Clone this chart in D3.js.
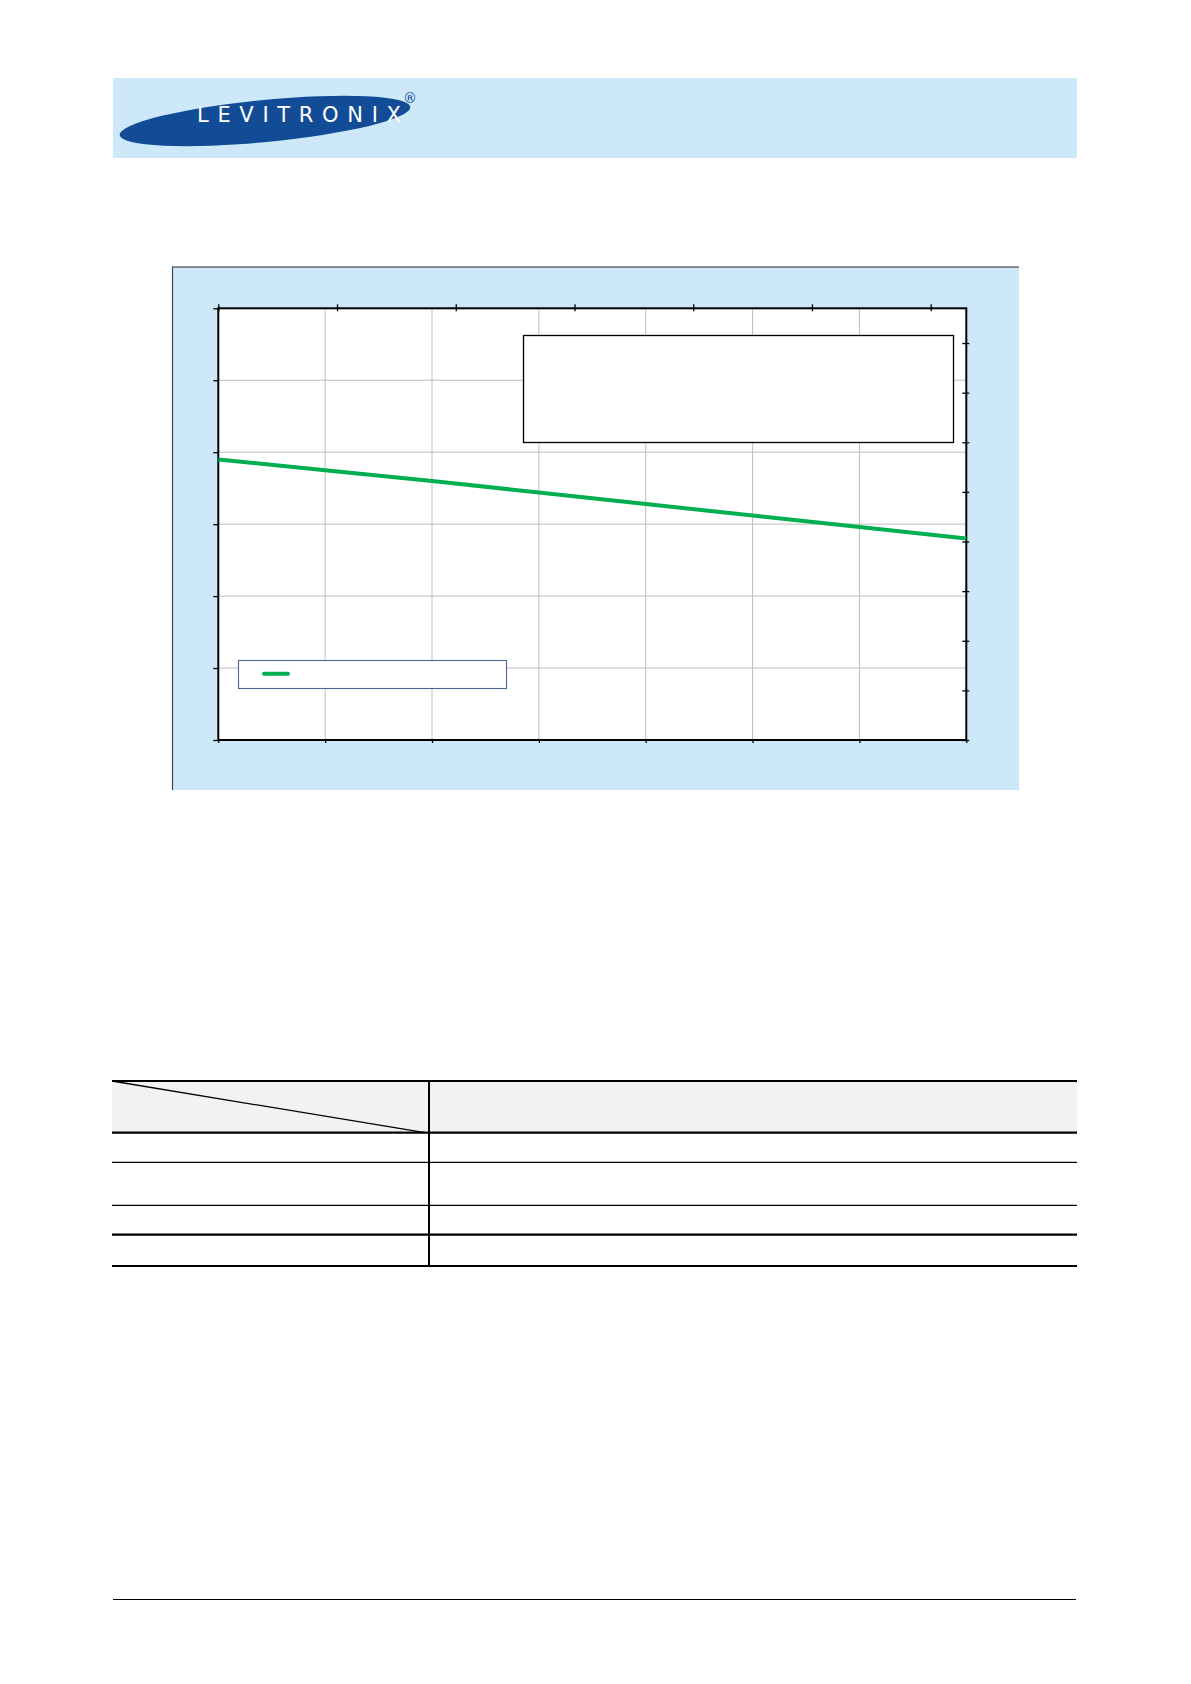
<!DOCTYPE html>
<html>
<head>
<meta charset="utf-8">
<script src="https://cdn.jsdelivr.net/npm/d3@7"></script>
<style>
  html, body { margin: 0; padding: 0; background: #ffffff; }
  svg { display: block; }
</style>
</head>
<body>
<script>
// ---- data ----
const xValues = [0, 1, 2, 3, 4, 5, 6, 7];
const seriesValues = [3.90, 3.75, 3.60, 3.44, 3.28, 3.12, 2.96, 2.80];
const bottomTicks = [0, 1, 2, 3, 4, 5, 6, 7];
const leftTicks = [0, 1, 2, 3, 4, 5, 6];
const topTicks = [0, 1, 2, 3, 4, 5, 6];
const rightTicks = [0, 1, 2, 3, 4, 5, 6, 7, 8];
const tableRowEdges = [0, 1, 2, 3, 4, 5];

const W = 1191, H = 1684;
const svg = d3.select("body").append("svg").attr("width", W).attr("height", H);

const BLUE_BG = "#cce8f9";
const LOGO_BLUE = "#124c97";

// ---- header band with logo ----
svg.append("rect").attr("x", 113).attr("y", 78).attr("width", 964).attr("height", 80).attr("fill", BLUE_BG);
svg.append("ellipse").attr("cx", 265).attr("cy", 121).attr("rx", 146).attr("ry", 21)
  .attr("transform", "rotate(-5.5 265 121)").attr("fill", LOGO_BLUE);
svg.append("text").attr("x", 197).attr("y", 121.5).attr("textLength", 204).attr("lengthAdjust", "spacing")
  .attr("font-family", "DejaVu Sans, sans-serif").attr("font-size", 21).attr("fill", "#ffffff")
  .text("LEVITRONIX");
svg.append("text").attr("x", 410).attr("y", 103).attr("text-anchor", "middle")
  .attr("font-family", "DejaVu Sans, sans-serif").attr("font-size", 14).attr("fill", LOGO_BLUE).text("®");

// ---- chart frame ----
svg.append("rect").attr("x", 172).attr("y", 267).attr("width", 847).attr("height", 523).attr("fill", BLUE_BG);
svg.append("line").attr("x1", 172).attr("x2", 1019).attr("y1", 267).attr("y2", 267).attr("stroke", "#222").attr("stroke-width", 1.2);
svg.append("line").attr("x1", 172.5).attr("x2", 172.5).attr("y1", 267).attr("y2", 790).attr("stroke", "#445").attr("stroke-width", 1.2);

const L = 218.3, R = 966.3, T = 308.3, B = 740;
const x = d3.scaleLinear().domain([0, 7]).range([L, R]);
const y = d3.scaleLinear().domain([0, 6]).range([B, T]);
const x2 = d3.scaleLinear().domain([0, 6.3]).range([L, R]);
const y2 = d3.scaleLinear().domain([0, 8.7]).range([B, T]);

svg.append("rect").attr("x", L).attr("y", T).attr("width", R - L).attr("height", B - T).attr("fill", "#ffffff");

// gridlines
const grid = svg.append("g").attr("stroke", "#bfbfbf").attr("stroke-width", 1);
grid.selectAll(".gx").data(bottomTicks.slice(1, -1)).enter().append("line")
  .attr("x1", d => x(d)).attr("x2", d => x(d)).attr("y1", T).attr("y2", B);
grid.selectAll(".gy").data(leftTicks.slice(1, -1)).enter().append("line")
  .attr("x1", L).attr("x2", R).attr("y1", d => y(d)).attr("y2", d => y(d));

// axes
const axStyle = g => { g.selectAll("text").remove(); g.select(".domain").remove(); g.selectAll("line").attr("stroke", "#000").attr("stroke-width", 1.3); };
svg.append("g").attr("transform", `translate(0,${B})`).call(d3.axisBottom(x).tickValues(bottomTicks).tickSize(3)).call(axStyle);
svg.append("g").attr("transform", `translate(${L},0)`).call(d3.axisLeft(y).tickValues(leftTicks).tickSize(5)).call(axStyle);
svg.append("g").attr("transform", `translate(0,${T})`).call(d3.axisTop(x2).tickValues(topTicks).tickSizeInner(5).tickSizeOuter(0)).call(axStyle)
  .selectAll(".tick line").attr("y2", 3).attr("y1", -4);
svg.append("g").attr("transform", `translate(${R},0)`).call(d3.axisRight(y2).tickValues(rightTicks).tickSizeInner(4).tickSizeOuter(0)).call(axStyle)
  .selectAll(".tick line").attr("x1", -4).attr("x2", 3);

// plot border
svg.append("rect").attr("x", L).attr("y", T).attr("width", R - L).attr("height", B - T)
  .attr("fill", "none").attr("stroke", "#000").attr("stroke-width", 2);

// upper info box
svg.append("rect").attr("x", 523.5).attr("y", 335.5).attr("width", 430).attr("height", 107)
  .attr("fill", "#ffffff").attr("stroke", "#000").attr("stroke-width", 1.3);

// series line
const line = d3.line().x((d, i) => x(xValues[i])).y(d => y(d));
svg.append("path").datum(seriesValues).attr("d", line).attr("fill", "none")
  .attr("stroke", "#00b050").attr("stroke-width", 4);

// legend
svg.append("rect").attr("x", 238.5).attr("y", 660.5).attr("width", 268).attr("height", 28)
  .attr("fill", "#ffffff").attr("stroke", "#4a6496").attr("stroke-width", 1.1);
svg.append("line").attr("x1", 264).attr("x2", 288).attr("y1", 673.7).attr("y2", 673.7)
  .attr("stroke", "#00b050").attr("stroke-width", 4).attr("stroke-linecap", "round");

// ---- table ----
const rowY = [1081, 1132.7, 1162.3, 1205.3, 1234.7, 1266];
const rowW = [2, 2.2, 1.3, 1.3, 2.2, 2.2];
const tL = 112, tR = 1077, tDiv = 429;
svg.append("rect").attr("x", tL).attr("y", rowY[0]).attr("width", tR - tL).attr("height", rowY[1] - rowY[0]).attr("fill", "#f2f2f2");
svg.append("line").attr("x1", tL).attr("y1", rowY[0]).attr("x2", 425).attr("y2", rowY[1]).attr("stroke", "#000").attr("stroke-width", 1.3);
svg.selectAll(".trow").data(tableRowEdges).enter().append("line")
  .attr("x1", tL).attr("x2", tR).attr("y1", i => rowY[i]).attr("y2", i => rowY[i])
  .attr("stroke", "#000").attr("stroke-width", i => rowW[i]);
svg.append("line").attr("x1", tDiv).attr("x2", tDiv).attr("y1", rowY[0]).attr("y2", rowY[5]).attr("stroke", "#000").attr("stroke-width", 2);

// ---- footer rule ----
svg.append("line").attr("x1", 113).attr("x2", 1076).attr("y1", 1599.5).attr("y2", 1599.5).attr("stroke", "#000").attr("stroke-width", 1);
</script>
</body>
</html>
